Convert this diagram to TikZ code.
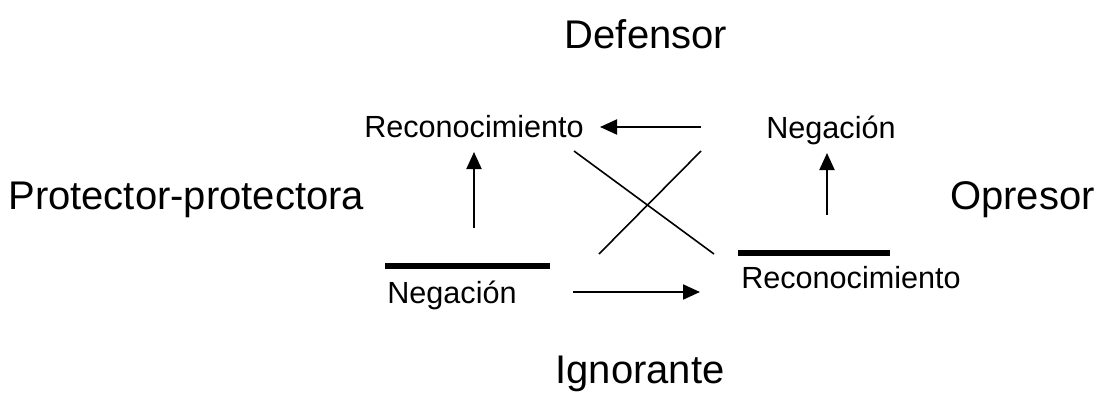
\documentclass[tikz,border=0pt]{standalone}
\usepackage{fontspec}
\setmainfont{Liberation Sans}
\usetikzlibrary{arrows.meta}
\begin{document}
\begin{tikzpicture}[x=0.5pt,y=-0.5pt,
  big/.style={font=\fontsize{20}{24}\selectfont, inner sep=0pt, anchor=base},
  small/.style={font=\fontsize{15.3}{18}\selectfont, inner sep=0pt, anchor=base},
  arr/.style={line width=1pt, -{Triangle[length=8.5pt,width=7.5pt]}},
  crossline/.style={line width=0.8pt},
  bar/.style={line width=3pt}]
\useasboundingbox (0,0) rectangle (1104,392);
\node[big] (def) at (646,48) {Defensor};
\node[big, anchor=base west] (prot) at (8,209) {Protector-protectora};
\node[big, anchor=base east] (opr) at (1095,209) {Opresor};
\node[big] (ign) at (640,383) {Ignorante};
\node[small] (recL) at (474,137) {Reconocimiento};
\node[small] (negR) at (831,138) {Negación};
\node[small] (negL) at (452,303) {Negación};
\node[small] (recR) at (851,288) {Reconocimiento};
% coordinates
\coordinate (topS) at (701,127);
\coordinate (topE) at (600,127);
\coordinate (lupS) at (474,228);
\coordinate (lupE) at (474,152);
\coordinate (rupS) at (827,215);
\coordinate (rupE) at (827,153);
\coordinate (botS) at (573,292);
\coordinate (botE) at (700,292);
\coordinate (c1a) at (574,151);
\coordinate (c1b) at (714,254);
\coordinate (c2a) at (701,151);
\coordinate (c2b) at (599,254);
\coordinate (barLa) at (385,266);
\coordinate (barLb) at (550,266);
\coordinate (barRa) at (738,253);
\coordinate (barRb) at (890,253);
% drawing
\draw[arr] (topS) -- (topE);
\draw[arr] (lupS) -- (lupE);
\draw[arr] (rupS) -- (rupE);
\draw[arr] (botS) -- (botE);
\draw[crossline] (c1a) -- (c1b);
\draw[crossline] (c2a) -- (c2b);
\draw[bar] (barLa) -- (barLb);
\draw[bar] (barRa) -- (barRb);
\end{tikzpicture}
\end{document}
